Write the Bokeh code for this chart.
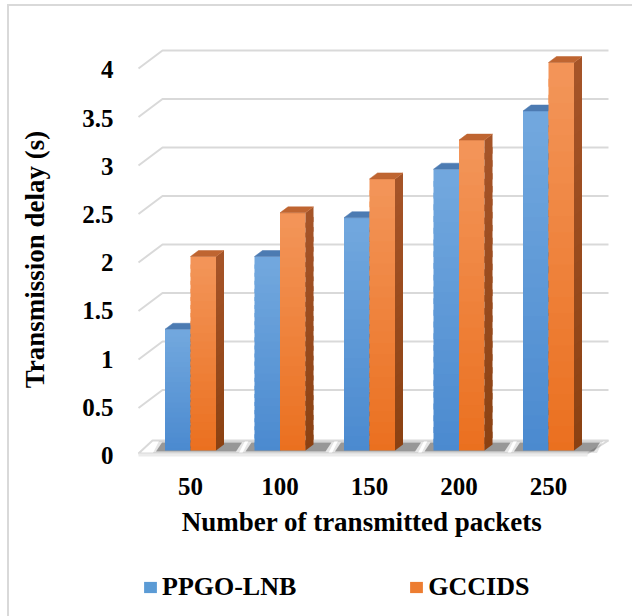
import numpy as np
from bokeh.plotting import figure
from bokeh.layouts import column
from bokeh.models import (Range1d, LinearAxis, FixedTicker, ColumnDataSource,
                          Legend, LegendItem)
from bokeh.embed import file_html
from bokeh.resources import INLINE

# ---- data -------------------------------------------------------------
packets = ["50", "100", "150", "200", "250"]
ppgo_lnb = [1.25, 2.0, 2.4, 2.9, 3.5]
gccids = [2.0, 2.45, 2.8, 3.2, 4.0]
series_names = ["PPGO-LNB", "GCCIDS"]
y_ticks = [0, 0.5, 1, 1.5, 2, 2.5, 3, 3.5, 4]
y_tick_labels = ["0", "0.5", "1", "1.5", "2", "2.5", "3", "3.5", "4"]

# ---- page geometry --------------------------------------------------------
PAGE_W, PAGE_H = 632, 616
OX, OY = 9, 6                     # frame border offset of the content
W = PAGE_W - OX
H1 = 542                          # chart figure height
H2 = PAGE_H - OY - H1             # legend strip height

# plot frame edges (figure px)
FL, FR, FT, FB = 104, 601, 40, 466
PX_X, PX_Y = 89.5, 97.0           # px per category / per second
X0_PX = 190 - OX                  # first group centre
BASE_PX = 450 - OY                # bar baseline
LAB_BASE_PX, LAB_PX = 455 - OY, 96.4


def xd(px):
    """page x pixel -> category units"""
    return (px - OX - X0_PX) / PX_X


def yd(px):
    """page y pixel -> seconds on the bar plane"""
    return (BASE_PX - (px - OY)) / PX_Y


BAR_W = 25.5 / PX_X
DEPTH_X, DEPTH_Y = 8 / PX_X, 6 / PX_Y    # bar depth (top / side faces)
WALL_DX, WALL_DY = 24 / PX_X, 18 / PX_Y  # side wall depth
BACK_OFF = 0.124
FRONT_OFF = BACK_OFF - WALL_DY
BACK_X0, BACK_X1 = xd(162), xd(608)
SIDE_X0 = BACK_X0 - WALL_DX

FONT = "Liberation Serif"
GRID = "#d9d9d9"

p = figure(width=W, height=H1,
           x_range=Range1d((FL - X0_PX) / PX_X, (FR - X0_PX) / PX_X),
           y_range=Range1d(-(FB - BASE_PX) / PX_Y, (BASE_PX - FT) / PX_Y),
           x_axis_location=None, y_axis_location=None,
           output_backend="svg", toolbar_location=None,
           min_border_left=FL, min_border_right=W - FR,
           min_border_top=FT, min_border_bottom=H1 - FB)
p.outline_line_color = None
p.grid.visible = False
p.background_fill_color = "white"
p.border_fill_color = "white"

# tick labels sit on the front edge of the floor
p.extra_y_ranges = {"lab": Range1d(-(FB - LAB_BASE_PX) / LAB_PX,
                                   (LAB_BASE_PX - FT) / LAB_PX)}

# ---- walls and floor ----------------------------------------------------
gx, gy = [], []
for v in y_ticks[1:]:
    gx.append([SIDE_X0, BACK_X0, BACK_X1])
    gy.append([v + FRONT_OFF, v + BACK_OFF, v + BACK_OFF])
p.multi_line(gx, gy, line_color=GRID, line_width=2)

p.patch([xd(138), xd(152), xd(608), xd(587)],
        [yd(453), yd(440), yd(440), yd(453)],
        fill_color="white", line_color=GRID, line_width=2)
p.patch([xd(138), xd(587), xd(587), xd(138)],
        [yd(453), yd(453), yd(456), yd(456)],
        fill_color="#ebebeb", line_color=None)

# soft shadows on the floor around each bar pair
idx = np.arange(len(packets))
for grow, alpha in ((3, 0.12), (0, 0.42)):
    sx, sy = [], []
    for i in idx:
        l = i - BAR_W - (9 + grow) / PX_X
        r = i + BAR_W + DEPTH_X + (12 + grow) / PX_X
        y0, y1 = -(1 + grow / 2) / PX_Y, (8 + grow / 2) / PX_Y
        sx.append([l, r, r + 6 / PX_X, l + 6 / PX_X])
        sy.append([y0, y0, y1, y1])
    p.patches(sx, sy, fill_color="#2b2b2b", fill_alpha=alpha, line_color=None)

# ---- 3D bars ------------------------------------------------------------
def mix(c1, c2, t):
    a = np.array([int(c1[k:k + 2], 16) for k in (1, 3, 5)], float)
    b = np.array([int(c2[k:k + 2], 16) for k in (1, 3, 5)], float)
    c = a + (b - a) * t
    return "#%02x%02x%02x" % tuple(int(round(x)) for x in c)

styles = [
    dict(base="#5B9BD5", top="#72A8DE", bottom="#4A89CF",
         cap="#4C7BB2", side_top="#44719F", side_bottom="#35608E"),
    dict(base="#ED7D31", top="#F39559", bottom="#EA6F1E",
         cap="#BF6531", side_top="#A65428", side_bottom="#8A4112"),
]
N = 24
for s, (vals, st) in enumerate(zip((ppgo_lnb, gccids), styles)):
    off = (s - 0.5) * BAR_W

    # front face with a vertical shade (bands overlap slightly downwards)
    bx, bb, bt, bc = [], [], [], []
    for i, v in zip(idx, vals):
        for k in range(N):
            bx.append(i + off)
            bb.append(v * max(k - 0.5, 0) / N)
            bt.append(v * (k + 1) / N)
            bc.append(mix(st["bottom"], st["top"], (k + 0.5) / N))
    p.vbar(x="x", width=BAR_W, top="t", bottom="b", fill_color="c",
           line_color=None, source=ColumnDataSource(dict(x=bx, t=bt, b=bb, c=bc)))

    # right-hand side face
    fx, fy, fc = [], [], []
    for i, v in zip(idx, vals):
        xr = i + off + BAR_W / 2
        for k in range(N):
            y0, y1 = v * max(k - 0.5, 0) / N, v * (k + 1) / N
            fx.append([xr, xr, xr + DEPTH_X, xr + DEPTH_X])
            fy.append([y0, y1, y1 + DEPTH_Y, y0 + DEPTH_Y])
            fc.append(mix(st["side_bottom"], st["side_top"], (k + 0.5) / N))
    p.patches("xs", "ys", fill_color="c", line_color=None,
              source=ColumnDataSource(dict(xs=fx, ys=fy, c=fc)))

    # top face
    tx, ty = [], []
    for i, v in zip(idx, vals):
        xl = i + off - BAR_W / 2
        tx.append([xl, xl + BAR_W, xl + BAR_W + DEPTH_X, xl + DEPTH_X])
        ty.append([v, v, v + DEPTH_Y, v + DEPTH_Y])
    p.patches(tx, ty, fill_color=st["cap"], line_color=st["cap"], line_width=0.5)

# ---- axes ---------------------------------------------------------------
yaxis = LinearAxis(y_range_name="lab", ticker=FixedTicker(ticks=y_ticks),
                   major_label_overrides=dict(zip(y_ticks, y_tick_labels)),
                   axis_label="Transmission delay (s)")
xaxis = LinearAxis(ticker=FixedTicker(ticks=list(idx)),
                   major_label_overrides={int(i): t for i, t in zip(idx, packets)},
                   axis_label="Number of transmitted packets")
for ax in (yaxis, xaxis):
    ax.axis_line_color = None
    ax.major_tick_line_color = None
    ax.minor_tick_line_color = None
    ax.major_tick_out = 0
    ax.major_tick_in = 0
    ax.major_label_text_font = FONT
    ax.major_label_text_font_style = "bold"
    ax.major_label_text_font_size = "25px"
    ax.major_label_text_color = "black"
    ax.axis_label_text_font = FONT
    ax.axis_label_text_font_style = "bold"
    ax.axis_label_text_font_size = "27px"
    ax.axis_label_text_color = "black"
yaxis.major_label_standoff = 0
yaxis.axis_label_standoff = 29
xaxis.major_label_standoff = 5
xaxis.axis_label_standoff = 9
p.add_layout(yaxis, "left")
p.add_layout(xaxis, "below")

# ---- legend strip under the chart -----------------------------------------
q = figure(width=W, height=H2, x_range=Range1d(0, W), y_range=Range1d(0, H2),
           x_axis_location=None, y_axis_location=None,
           output_backend="svg", toolbar_location=None,
           min_border=0, outline_line_color=None)
q.grid.visible = False
q.background_fill_color = "white"
q.border_fill_color = "white"
items = []
for name, st in zip(series_names, styles):
    swatch = q.vbar(x=[np.nan], top=[np.nan], width=1,
                    fill_color=st["base"], line_color=None)
    items.append(LegendItem(label=name, renderers=[swatch]))
legend = Legend(items=items, orientation="horizontal",
                location=(142 - OX - FL, 14), glyph_width=16, glyph_height=14,
                label_standoff=4, spacing=112, padding=0, margin=0,
                border_line_color=None, background_fill_alpha=0,
                label_text_font=FONT, label_text_font_style="bold",
                label_text_font_size="26px", label_text_color="black")
q.add_layout(legend)

page = column(p, q, spacing=0,
              styles={"margin-left": "7px", "margin-top": "4px",
                      "border-left": "2px solid #d9d9d9",
                      "border-top": "2px solid #d9d9d9"})

open("out.html", "w").write(file_html(page, INLINE))
